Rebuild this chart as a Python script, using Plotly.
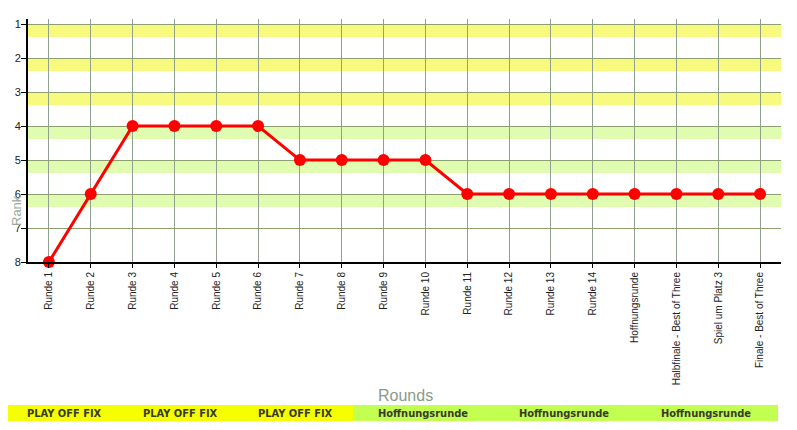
import plotly.graph_objects as go

rounds = ["Runde 1", "Runde 2", "Runde 3", "Runde 4", "Runde 5", "Runde 6", "Runde 7",
          "Runde 8", "Runde 9", "Runde 10", "Runde 11", "Runde 12", "Runde 13", "Runde 14",
          "Hoffnungsrunde", "Halbfinale - Best of Three", "Spiel um Platz 3",
          "Finale - Best of Three"]
ranks = [8, 6, 4, 4, 4, 4, 5, 5, 5, 5, 6, 6, 6, 6, 6, 6, 6, 6]
rank_ticks = [1, 2, 3, 4, 5, 6, 7, 8]
yellow_bands = [1, 2, 3]
green_bands = [4, 5, 6]
bar_labels = ["PLAY OFF FIX", "PLAY OFF FIX", "PLAY OFF FIX",
              "Hoffnungsrunde", "Hoffnungsrunde", "Hoffnungsrunde"]

OFF = 8  # page body margin
W, H = 797 - OFF, 430 - OFF
# plot area in window pixel coordinates
L, R, T, B = 28, 781, 19, 262


def px_x(p):
    return (p - L) / (R - L)


def px_y(p):
    return (B - p) / (B - T)


fig = go.Figure()
fig.add_trace(go.Scatter(
    x=rounds, y=ranks, mode="lines+markers",
    line=dict(color="#ff0000", width=3),
    marker=dict(color="#ff0000", size=12),
    hoverinfo="skip", cliponaxis=False,
))

shapes = []
for r in yellow_bands:
    shapes.append(dict(type="rect", xref="paper", yref="y", x0=0, x1=1, y0=r, y1=r + 0.38,
                       fillcolor="#f8fa80", line_width=0, layer="below"))
for r in green_bands:
    shapes.append(dict(type="rect", xref="paper", yref="y", x0=0, x1=1, y0=r, y1=r + 0.38,
                       fillcolor="#e0fcb0", line_width=0, layer="below"))

split = 353
shapes.append(dict(type="rect", xref="paper", yref="paper", x0=px_x(8), x1=px_x(split),
                   y0=px_y(421), y1=px_y(405), fillcolor="#f5ff00", line_width=0))
shapes.append(dict(type="rect", xref="paper", yref="paper", x0=px_x(split), x1=px_x(778),
                   y0=px_y(421), y1=px_y(405), fillcolor="#c2ff50", line_width=0))

centers = [64, 180, 295, 423, 564, 706]
annotations = []
for lab, c in zip(bar_labels, centers):
    annotations.append(dict(text="<b>" + lab + "</b>", xref="paper", yref="paper",
                            x=px_x(c), y=px_y(413),
                            showarrow=False, xanchor="center", yanchor="middle",
                            font=dict(family="DejaVu Sans Condensed", size=11, color="#3a3a2a")))
annotations.append(dict(text="Rounds", xref="paper", yref="paper", x=px_x(405), y=px_y(395),
                        showarrow=False, xanchor="center", yanchor="middle",
                        font=dict(family="Liberation Sans", size=16, color="#8a9a8a")))
annotations.append(dict(text="Rank", xref="paper", yref="paper", x=px_x(16), y=px_y(211),
                        showarrow=False, xanchor="center", yanchor="middle", textangle=-90,
                        font=dict(family="Liberation Sans", size=13, color="#9aa89a")))

fig.update_layout(
    width=W, height=H,
    margin=dict(l=L - OFF, r=797 - R, t=T - OFF, b=430 - B, pad=0, autoexpand=False),
    paper_bgcolor="white", plot_bgcolor="white",
    showlegend=False,
    shapes=shapes, annotations=annotations,
    xaxis=dict(
        type="category", range=[-0.5, len(rounds) - 0.5], automargin=False,
        showgrid=True, gridcolor="#8fa08f", gridwidth=1,
        showline=True, linecolor="#000000", linewidth=2,
        ticks="outside", ticklen=4, tickcolor="#000000", tickwidth=1,
        tickangle=-90, tickfont=dict(family="Liberation Sans", size=10, color="#222222"),
        zeroline=False, fixedrange=True,
    ),
    yaxis=dict(
        range=[8, 0.85], tickvals=rank_ticks, automargin=False,
        showgrid=True, gridcolor="#8ea070", gridwidth=1,
        showline=True, linecolor="#000000", linewidth=2,
        ticks="outside", ticklen=5, tickcolor="#000000", tickwidth=1,
        ticklabelstandoff=-2,
        tickfont=dict(family="Liberation Sans", size=11, color="#222222"),
        zeroline=False, fixedrange=True,
    ),
)

fig.write_html("out.html")
